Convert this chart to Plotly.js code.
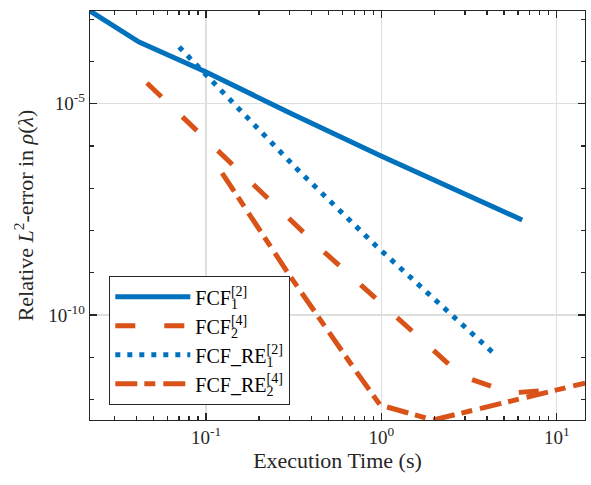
<!DOCTYPE html>
<html>
<head>
<meta charset="utf-8">
<script src="https://cdn.plot.ly/plotly-3.0.1.min.js"></script>
<style>html,body{margin:0;padding:0;background:#fff;}</style>
</head>
<body>
<div id="chart" style="width:591px;height:485px;"></div>
<script>
// Execution time (s) and relative L2-error values
const fcf1Time = [0.0218, 0.0415, 0.1, 0.301, 0.996, 6.35];
const fcf1Err  = [1.56e-3, 2.88e-4, 5.62e-5, 6.03e-6, 5.78e-7, 1.77e-8];

const fcf2Time = [0.0460, 0.465, 2.88, 5.42, 8.04];
const fcf2Err  = [3.09e-5, 3.27e-9, 3.60e-12, 1.43e-12, 1.59e-12];

const re1Time = [0.0702, 0.330, 0.933, 4.29];
const re1Err  = [2.20e-4, 2.85e-7, 4.30e-9, 1.33e-11];

const re2Time = [0.1234, 0.301, 0.708, 0.983, 1.97, 14.5];
const re2Err  = [2.29e-7, 8.38e-10, 5.0e-12, 7.4e-13, 3.27e-13, 2.45e-12];

const seriesNames = [
  'FCF<sub><span style="letter-spacing:-7px">1</span></sub><sup>[2]</sup>',
  'FCF<sub><span style="letter-spacing:-7px">2</span></sub><sup>[4]</sup>',
  'FCF_RE<sub><span style="letter-spacing:-7px">1</span></sub><sup>[2]</sup>',
  'FCF_RE<sub><span style="letter-spacing:-7px">2</span></sub><sup>[4]</sup>'
];

const xTickVals = [0.1, 1, 10];
const xTickText = ['10<sup>-1</sup>', '10<sup>0</sup>', '10<sup>1</sup>'];
const xMinorVals = [0.03,0.04,0.05,0.06,0.07,0.08,0.09,0.2,0.3,0.4,0.5,0.6,0.7,0.8,0.9,2,3,4,5,6,7,8,9];
const yTickVals = [1e-10, 1e-5];
const yTickText = ['10<sup>-10</sup>', '10<sup>-5</sup>'];
const yMinorVals = [1e-12,1e-11,1e-9,1e-8,1e-7,1e-6,1e-4,1e-3];

const BLUE = '#0072BD', ORANGE = '#D95319';
const FONT = '"Liberation Serif", serif';
const AX = '#262626';

const traces = [
  {x: fcf1Time, y: fcf1Err, name: seriesNames[0], mode: 'lines',
   line: {color: BLUE, width: 5, dash: 'solid'}},
  {x: fcf2Time, y: fcf2Err, name: seriesNames[1], mode: 'lines',
   line: {color: ORANGE, width: 5, dash: '20px,29px'}},
  {x: re1Time, y: re1Err, name: seriesNames[2], mode: 'lines',
   line: {color: BLUE, width: 5, dash: '5px,7px'}},
  {x: re2Time, y: re2Err, name: seriesNames[3], mode: 'lines',
   line: {color: ORANGE, width: 5, dash: '22px,7px,11px,8px'}}
];

const layout = {
  width: 591, height: 485,
  margin: {l: 90, r: 6, t: 11, b: 65},
  paper_bgcolor: '#fff', plot_bgcolor: '#fff',
  font: {family: FONT, size: 19, color: '#262626'},
  showlegend: true,
  legend: {
    x: 0.0384, y: 0.352, xanchor: 'left', yanchor: 'top',
    bgcolor: '#fff', bordercolor: '#262626', borderwidth: 1.3,
    font: {family: FONT, size: 20, color: '#000'},
    itemwidth: 75, tracegroupgap: 0
  },
  xaxis: {
    type: 'log', range: [-1.662, 1.161],
    tickmode: 'array', tickvals: xTickVals, ticktext: xTickText,
    ticks: 'inside', ticklen: 7, tickwidth: 1.3, tickcolor: AX,
    showline: true, linecolor: AX, linewidth: 1.3, mirror: 'ticks',
    showgrid: true, gridcolor: '#dfdfdf', gridwidth: 1.2,
    zeroline: false,
    tickfont: {family: FONT, size: 19, color: '#262626'},
    minor: {tickmode: 'array', tickvals: xMinorVals, ticks: 'inside', ticklen: 4,
            tickwidth: 1.3, tickcolor: AX, showgrid: false},
    title: {text: 'Execution Time (s)', font: {family: FONT, size: 22, color: '#262626'}, standoff: 4}
  },
  yaxis: {
    type: 'log', range: [-12.485, -2.806],
    tickmode: 'array', tickvals: yTickVals, ticktext: yTickText,
    ticks: 'inside', ticklen: 7, tickwidth: 1.3, tickcolor: AX,
    showline: true, linecolor: AX, linewidth: 1.3, mirror: 'ticks',
    showgrid: true, gridcolor: '#dfdfdf', gridwidth: 1.2,
    zeroline: false,
    tickfont: {family: FONT, size: 19, color: '#262626'},
    minor: {tickmode: 'array', tickvals: yMinorVals, ticks: 'inside', ticklen: 4,
            tickwidth: 1.3, tickcolor: AX, showgrid: false},
    title: {text: 'Relative <i>L</i><sup>2</sup>-error in <i>ρ</i>(<i>λ</i>)',
            font: {family: FONT, size: 22, color: '#262626'}, standoff: 8}
  }
};

Plotly.newPlot('chart', traces, layout, {displayModeBar: false, staticPlot: true});
</script>
</body>
</html>
